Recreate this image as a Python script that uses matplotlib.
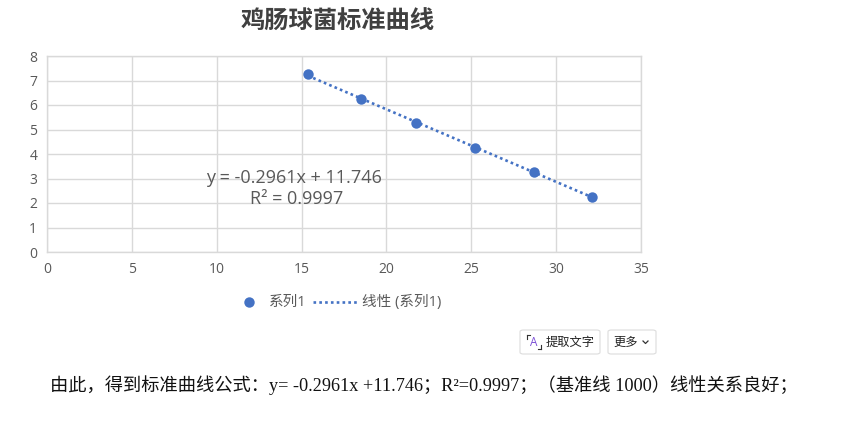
import matplotlib
matplotlib.use("Agg")
import matplotlib.pyplot as plt
from matplotlib.patches import FancyBboxPatch
from matplotlib.lines import Line2D
import numpy as np

# ---- data ----
x_vals = [15.37, 18.51, 21.75, 25.24, 28.67, 32.10]
y_vals = [7.27, 6.26, 5.27, 4.26, 3.27, 2.26]
slope = -0.2961
intercept = 11.746
r2 = 0.9997
x_ticks = [0, 5, 10, 15, 20, 25, 30, 35]
y_ticks = [0, 1, 2, 3, 4, 5, 6, 7, 8]
title = "鸡肠球菌标准曲线"
series_name = "系列1"
trend_name = "线性 (系列1)"
footer = "由此，得到标准曲线公式：y= -0.2961x +11.746；R²=0.9997；（基准线 1000）线性关系良好；"

W, H = 842, 424
BLUE = "#4472C4"
GRAY = "#595959"
GRID = "#d9d9d9"
LATIN = ["Open Sans", "Noto Sans CJK SC", "DejaVu Sans"]
CJK = ["Noto Sans CJK SC", "DejaVu Sans"]
DOT = (0, (1, 1.2))

fig = plt.figure(figsize=(W / 100, H / 100), dpi=100)
fig.patch.set_facecolor("white")

def fx(px):
    return px / W

def fy(py):
    return 1 - py / H

ax = fig.add_axes([fx(47), fy(252), fx(641) - fx(47), fy(56) - fy(252)])
ax.set_xlim(0, 35)
ax.set_ylim(0, 8)
ax.set_xticks(x_ticks)
ax.set_yticks(y_ticks)
ax.grid(True, color=GRID, linewidth=1.0)
ax.set_axisbelow(True)
for s in ax.spines.values():
    s.set_color(GRID)
    s.set_linewidth(1.0)
ax.tick_params(length=0, colors=GRAY, labelsize=10, pad=7)
for lab in ax.get_xticklabels() + ax.get_yticklabels():
    lab.set_family(LATIN)
    lab.set_color(GRAY)

# trendline over data range
xt = np.array([min(x_vals), max(x_vals)])
ax.plot(xt, slope * xt + intercept, linestyle=DOT, color=BLUE,
        linewidth=1.9, zorder=2)
ax.plot(x_vals, y_vals, "o", color=BLUE, markersize=7.5, zorder=3,
        markeredgewidth=0)

ax.text(0.416, 0.378, f"y = {slope}x + {intercept}", transform=ax.transAxes,
        ha="center", va="center", fontsize=13, color=GRAY, family=LATIN)
ax.text(0.421, 0.272, f"R² = {r2}", transform=ax.transAxes,
        ha="center", va="center", fontsize=13, color=GRAY, family=LATIN)

# title
fig.text(fx(338), fy(22), title, ha="center", va="center", fontsize=17.5,
         fontweight="bold", color="#404040", family=CJK)

# legend (drawn manually to match spacing)
fig.add_artist(Line2D([fx(249)], [fy(302)], marker="o", linestyle="none",
                      color=BLUE, markersize=7.5, markeredgewidth=0,
                      transform=fig.transFigure))
fig.text(fx(269), fy(302), series_name, ha="left", va="center", fontsize=10.5,
         color=GRAY, family=LATIN)
fig.add_artist(Line2D([fx(313), fx(357)], [fy(302), fy(302)], linestyle=DOT,
                      color=BLUE, linewidth=1.9, transform=fig.transFigure))
fig.text(fx(362), fy(302), trend_name, ha="left", va="center", fontsize=10.5,
         color=GRAY, family=LATIN)

# buttons
def button(x0, y0, x1, y1):
    p = FancyBboxPatch((fx(x0), fy(y1)), fx(x1) - fx(x0), fy(y0) - fy(y1),
                       boxstyle="round,pad=0,rounding_size=0.004",
                       transform=fig.transFigure, facecolor="white",
                       edgecolor="#dcdcdc", linewidth=0.8)
    fig.patches.append(p)

button(520, 330, 600, 354)
button(608, 330, 656, 354)

# icon [A]
ic = "#7b4fd6"
fig.text(fx(534), fy(342), "A", ha="center", va="center", fontsize=8.5,
         color=ic, family=LATIN)
for (xa, ya, xb, yb) in [(527, 335, 527, 339), (527, 335, 530, 335),
                         (541, 349, 541, 345), (541, 349, 538, 349)]:
    fig.add_artist(Line2D([fx(xa), fx(xb)], [fy(ya), fy(yb)],
                          transform=fig.transFigure, color="#333333",
                          linewidth=0.8))
fig.text(fx(570), fy(342), "提取文字", ha="center", va="center", fontsize=8.8,
         color="#222222", family=CJK)
fig.text(fx(626), fy(342), "更多", ha="center", va="center", fontsize=8.8,
         color="#222222", family=CJK)
fig.add_artist(Line2D([fx(643), fx(645.5), fx(648)], [fy(341), fy(343.5), fy(341)],
                      transform=fig.transFigure, color="#333333", linewidth=0.9))

# footer
fig.text(fx(50), fy(385), footer, ha="left", va="center", fontsize=13.15,
         color="#111111", family=["Liberation Serif", "Noto Sans CJK SC"])

fig.savefig("out.png", dpi=100)
